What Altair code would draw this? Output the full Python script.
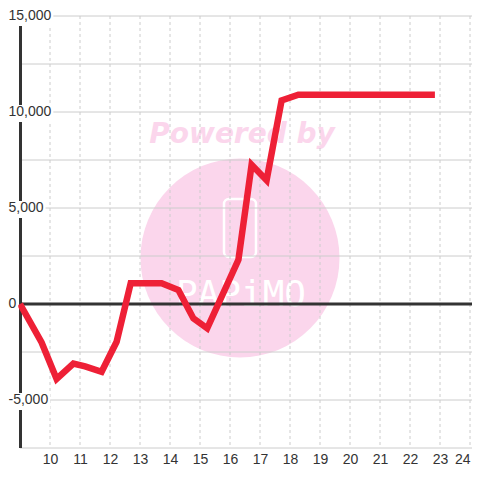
import altair as alt
import pandas as pd

# ---- data ----
hours = [9.0, 9.72, 10.22, 10.78, 11.17, 11.72, 12.22, 12.69, 13.72, 14.28,
         14.78, 15.24, 16.28, 16.72, 17.22, 17.72, 18.28, 22.83]
values = [0, -2000, -3900, -3100, -3250, -3530, -1970, 1080, 1080, 730,
          -750, -1270, 2300, 7250, 6450, 10600, 10900, 10900]

x_ticks = list(range(10, 25))
y_grid = [-7500, -5000, -2500, 2500, 5000, 7500, 10000, 12500, 15000]
y_label_vals = [15000, 10000, 5000, 0, -5000]
y_label_text = ["15,000", "10,000", "5,000", "0", "-5,000"]

W, H = 452, 432
X_DOMAIN = [9, 9 + W / 30]
Y_DOMAIN = [-7500, 15000]
RED = "#EE2036"
DARK = "#333333"
GRID = "#CCCCCC"
PINK = "#FBD6EC"
FONT = "Liberation Sans"

xs = alt.Scale(domain=X_DOMAIN, nice=False, zero=False)
ys = alt.Scale(domain=Y_DOMAIN, nice=False, zero=False)
x_axis = alt.Axis(values=x_ticks, grid=False, domain=False, ticks=False,
                  labelFont=FONT, labelFontSize=14, labelColor=DARK,
                  labelPadding=4, format="d", labelOverlap=False, labelFlush=4)

line_df = pd.DataFrame({"h": hours, "v": values})

# ---- watermark decoration ----
deco_src = pd.DataFrame({"k": [0]})
circle = alt.Chart(deco_src).mark_point(
    shape="circle", filled=True, fill=PINK, opacity=1, strokeWidth=0, size=39600
).encode(x=alt.value(220), y=alt.value(242))
powered = alt.Chart(deco_src).mark_text(
    text="Powered by", font="DejaVu Sans", fontSize=28, fontWeight="bold",
    fontStyle="italic", color=PINK, align="center", baseline="alphabetic"
).encode(x=alt.value(222), y=alt.value(127))
icon = alt.Chart(deco_src).mark_rect(
    fill=None, stroke="white", strokeWidth=2.5, cornerRadius=5, filled=False
).encode(x=alt.value(204), x2=alt.value(236), y=alt.value(183), y2=alt.value(241))
papimo = alt.Chart(deco_src).mark_text(
    text="PAPiMO", font="DejaVu Sans Mono", fontSize=36, color="white",
    align="center", baseline="alphabetic"
).encode(x=alt.value(221), y=alt.value(290))

# ---- grid ----
hgrid = alt.Chart(pd.DataFrame({"v": y_grid})).mark_rule(color=GRID, strokeWidth=1).encode(
    y=alt.Y("v:Q", scale=ys, axis=None), x=alt.value(0), x2=alt.value(W))
vgrid = alt.Chart(pd.DataFrame({"h": x_ticks})).mark_rule(
    color=GRID, strokeWidth=1, strokeDash=[3, 3]).encode(
    x=alt.X("h:Q", scale=xs, axis=x_axis, title=None), y=alt.value(0), y2=alt.value(H))

zero = alt.Chart(pd.DataFrame({"v": [0]})).mark_rule(color=DARK, strokeWidth=3).encode(
    y=alt.Y("v:Q", scale=ys, axis=None), x=alt.value(0), x2=alt.value(W))
yaxis_line = alt.Chart(pd.DataFrame({"k": [0]})).mark_rule(color=DARK, strokeWidth=3).encode(
    x=alt.value(0.5), y=alt.value(0), y2=alt.value(H))

line = alt.Chart(line_df).mark_line(
    color=RED, strokeWidth=6.5, strokeCap="butt", strokeJoin="miter").encode(
    x=alt.X("h:Q", scale=xs, title=None, axis=x_axis),
    y=alt.Y("v:Q", scale=ys, axis=None))

# ---- y labels with white boxes over the axis line ----
CW = {"-": 4.66, ",": 3.89}
def text_w(s):
    return sum(CW.get(c, 7.79) for c in s)

label_layers = []
for val, txt in zip(y_label_vals, y_label_text):
    start = -11.5
    w = text_w(txt)
    src = pd.DataFrame({"v": [val], "t": [txt]})
    bg = alt.Chart(src).mark_rule(color="white", strokeWidth=17, yOffset=1.5).encode(
        y=alt.Y("v:Q", scale=ys, axis=None),
        x=alt.value(start - 1), x2=alt.value(start + w + 2))
    tx = alt.Chart(src).mark_text(
        font=FONT, fontSize=14, color=DARK, align="left", baseline="middle").encode(
        y=alt.Y("v:Q", scale=ys, axis=None), x=alt.value(start), text="t:N")
    label_layers += [bg, tx]

chart = alt.layer(
    circle, powered, icon, papimo, hgrid, vgrid, zero, yaxis_line, line, *label_layers
).properties(
    width=W, height=H,
    autosize=alt.AutoSizeParams(type="none"),
    padding={"left": 12, "top": 8, "right": 0, "bottom": 24},
    background="white",
).configure_view(stroke=None)

chart.save("out.html", embed_options={"renderer": "svg", "actions": False})
